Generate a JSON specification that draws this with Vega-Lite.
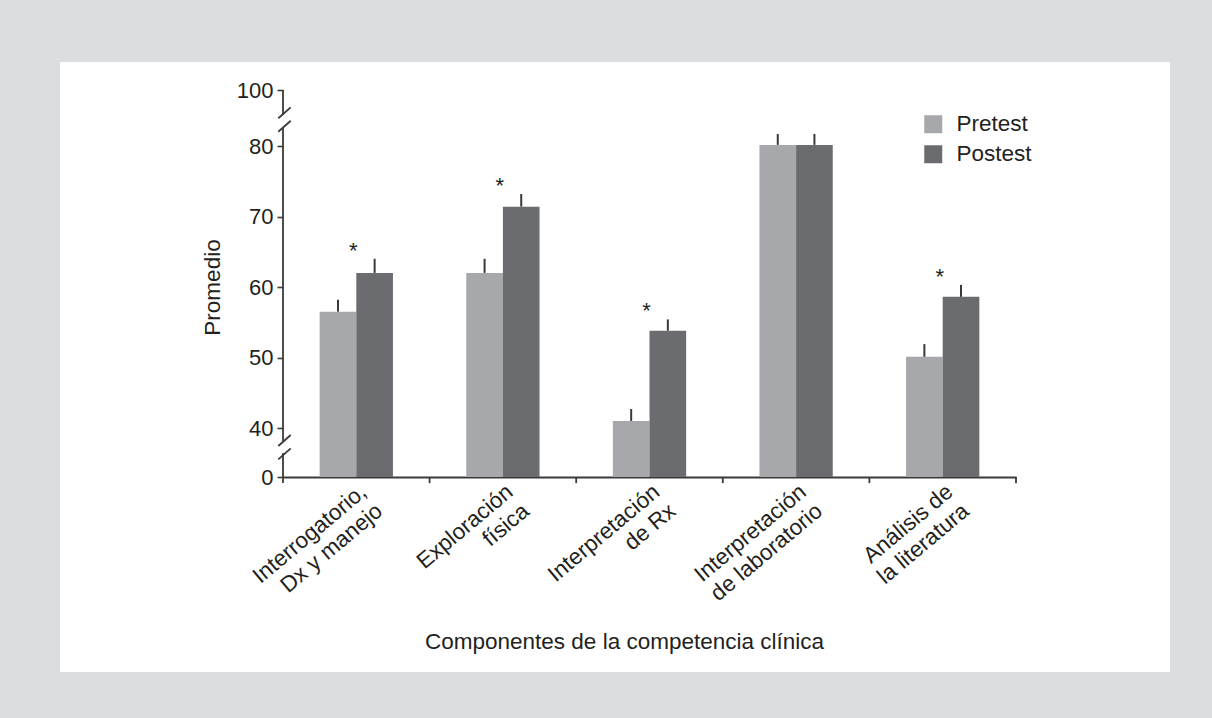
{
  "$schema": "https://vega.github.io/schema/vega-lite/v6.json",
  "width": 1110,
  "height": 610,
  "autosize": {"type": "none"},
  "padding": {"left": 60, "top": 62, "right": 42, "bottom": 46},
  "background": "#dcdddf",
  "config": {
    "view": {"fill": "white", "stroke": null},
    "font": "Liberation Sans",
    "text": {"font": "Liberation Sans"}
  },
  "datasets": {
    "promedios": [
      {"componente": "Interrogatorio,\nDx y manejo", "grupo": "Pretest", "promedio": 56.5, "superior": 58.2, "sig": ""},
      {"componente": "Interrogatorio,\nDx y manejo", "grupo": "Postest", "promedio": 62.0, "superior": 64.0, "sig": "*"},
      {"componente": "Exploración\nfísica", "grupo": "Pretest", "promedio": 62.0, "superior": 64.0, "sig": ""},
      {"componente": "Exploración\nfísica", "grupo": "Postest", "promedio": 71.4, "superior": 73.2, "sig": "*"},
      {"componente": "Interpretación\nde Rx", "grupo": "Pretest", "promedio": 41.0, "superior": 42.7, "sig": ""},
      {"componente": "Interpretación\nde Rx", "grupo": "Postest", "promedio": 53.8, "superior": 55.4, "sig": "*"},
      {"componente": "Interpretación\nde laboratorio", "grupo": "Pretest", "promedio": 80.4, "superior": 84.3, "sig": ""},
      {"componente": "Interpretación\nde laboratorio", "grupo": "Postest", "promedio": 80.4, "superior": 84.3, "sig": ""},
      {"componente": "Análisis de\nla literatura", "grupo": "Pretest", "promedio": 50.1, "superior": 51.9, "sig": ""},
      {"componente": "Análisis de\nla literatura", "grupo": "Postest", "promedio": 58.6, "superior": 60.3, "sig": "*"}
    ],
    "ejes": [
      {"x": 0, "x2": 0, "y": 100, "y2": 91.1},
      {"x": 0, "x2": 0, "y": 86.4, "y2": 29.4},
      {"x": 0, "x2": 0, "y": 19.6, "y2": -5},
      {"x": -0.0064, "x2": 0.0105, "y": 89.9, "y2": 93.8},
      {"x": -0.0064, "x2": 0.0105, "y": 85.1, "y2": 89.0},
      {"x": -0.0064, "x2": 0.0105, "y": 25.3, "y2": 34.3},
      {"x": -0.0064, "x2": 0.0105, "y": 14.4, "y2": 23.4},
      {"x": 0.2, "x2": 0.2, "y": 0, "y2": -5},
      {"x": 0.4, "x2": 0.4, "y": 0, "y2": -5},
      {"x": 0.6, "x2": 0.6, "y": 0, "y2": -5},
      {"x": 0.8, "x2": 0.8, "y": 0, "y2": -5},
      {"x": 1.0, "x2": 1.0, "y": 0, "y2": -5}
    ]
  },
  "layer": [
    {
      "data": {"name": "promedios"},
      "layer": [
        {
          "mark": {"type": "bar"},
          "encoding": {
            "x": {
              "field": "componente", "type": "nominal", "sort": null,
              "scale": {"range": [223, 956], "paddingInner": 0, "paddingOuter": 0},
              "axis": {
                "title": "Componentes de la competencia clínica",
                "ticks": false, "domain": true, "domainColor": "#3a3a3a", "domainWidth": 1.8,
                "labelAngle": -40, "labelAlign": "right", "labelBaseline": "top",
                "labelFontSize": 22.5, "labelLineHeight": 25, "labelPadding": 3,
                "labelColor": "#231f20", "labelOverlap": false, "labelLimit": 0,
                "labelExpr": "split(datum.label, '\\n')",
                "offset": -195,
                "titleFontSize": 22.5, "titleFontWeight": "normal", "titleColor": "#231f20",
                "titleX": 564, "titleY": 164, "titleBaseline": "middle", "titleAlign": "center"
              }
            },
            "xOffset": {
              "field": "grupo", "type": "nominal", "sort": ["Pretest", "Postest"],
              "scale": {"paddingInner": 0, "paddingOuter": 1.22}
            },
            "y": {
              "field": "promedio", "type": "quantitative", "title": "Promedio",
              "scale": {"domain": [0, 40, 80, 100], "range": [415, 366, 84, 28], "nice": false},
              "axis": {
                "values": [0, 40, 50, 60, 70, 80, 100],
                "domain": false, "grid": false, "ticks": true, "tickSize": 6,
                "tickColor": "#3a3a3a", "tickWidth": 1.6,
                "labelFontSize": 22, "labelColor": "#231f20", "labelPadding": 4,
                "offset": -223,
                "titleFontSize": 22.5, "titleFontWeight": "normal", "titleColor": "#231f20",
                "titleX": -71, "titleY": 225, "titleAngle": 270,
                "titleAlign": "center", "titleBaseline": "middle"
              }
            },
            "color": {
              "field": "grupo", "type": "nominal",
              "scale": {"domain": ["Pretest", "Postest"], "range": ["#a7a8ab", "#6b6c70"]},
              "legend": {
                "orient": "none", "legendX": 862, "legendY": 51, "title": null,
                "symbolType": "square", "symbolSize": 324, "symbolStrokeWidth": 0,
                "labelFontSize": 22.5, "labelColor": "#231f20", "labelOffset": 12,
                "rowPadding": 7, "padding": 0
              }
            }
          }
        },
        {
          "mark": {"type": "rule", "strokeWidth": 2, "color": "#3a3a3a"},
          "encoding": {
            "x": {"field": "componente", "type": "nominal", "sort": null},
            "xOffset": {"field": "grupo", "type": "nominal", "sort": ["Pretest", "Postest"]},
            "y": {"field": "promedio", "type": "quantitative", "title": "Promedio"},
            "y2": {"field": "superior"}
          }
        },
        {
          "transform": [{"filter": "datum.sig == '*'"}],
          "mark": {"type": "text", "fontSize": 22, "dy": -8, "dx": -3, "baseline": "middle", "color": "#231f20"},
          "encoding": {
            "x": {"field": "componente", "type": "nominal", "sort": null},
            "y": {"field": "superior", "type": "quantitative", "title": "Promedio"},
            "text": {"field": "sig"}
          }
        }
      ]
    },
    {
      "data": {"name": "ejes"},
      "mark": {"type": "rule", "strokeWidth": 1.8, "color": "#3a3a3a"},
      "encoding": {
        "x": {
          "field": "x", "type": "quantitative",
          "scale": {"domain": [0, 1], "range": [223, 956], "nice": false, "zero": false},
          "axis": null
        },
        "x2": {"field": "x2"},
        "y": {"field": "y", "type": "quantitative", "title": "Promedio"},
        "y2": {"field": "y2"}
      }
    }
  ],
  "resolve": {"scale": {"x": "independent"}}
}
